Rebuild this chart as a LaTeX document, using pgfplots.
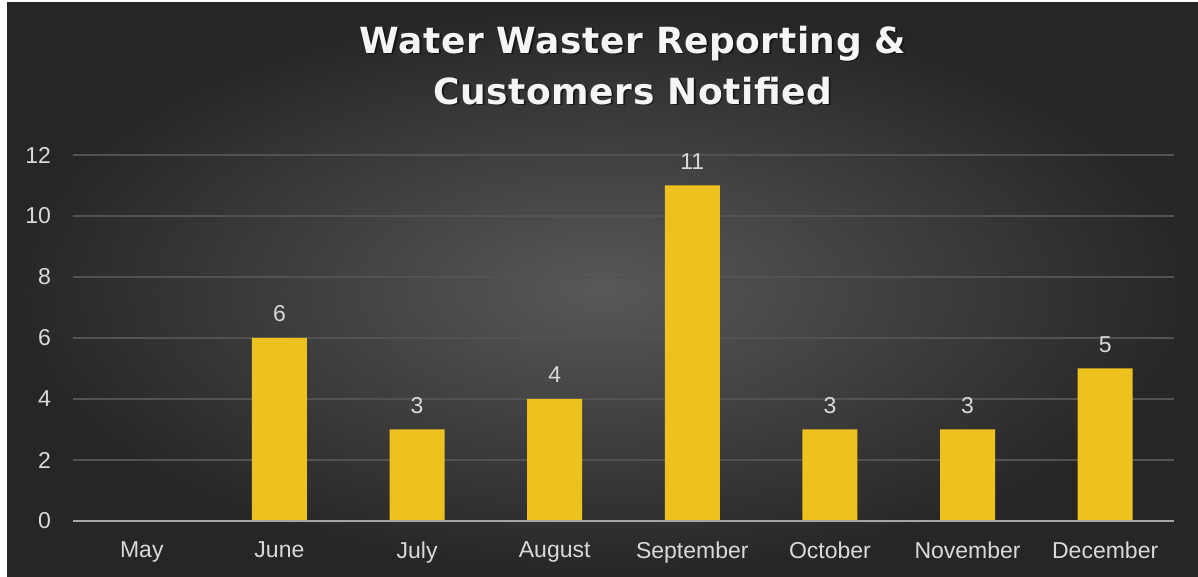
\documentclass[border=0pt]{standalone}
\usepackage{pgfplots}
\pgfplotsset{compat=1.18}
\usepackage{fontspec}
\setmainfont{Liberation Sans}
\newfontfamily\titlefont[LetterSpace=1.5]{DejaVu Sans Bold}
\definecolor{bgout}{RGB}{38,38,38}
\definecolor{bgin}{RGB}{88,88,88}
\definecolor{baryellow}{RGB}{237,194,30}
\definecolor{lbl}{RGB}{217,217,217}
\definecolor{gridc}{RGB}{82,82,82}
\definecolor{axisc}{RGB}{165,165,165}
\begin{document}
\begin{tikzpicture}[x=1pt,y=1pt]
\fill[white] (0,0) rectangle (599,288.5);
\shade[inner color=bgin, outer color=bgout] (3.5,0) rectangle (599,287);
\useasboundingbox (0,0) rectangle (599,288.5);
\node[font=\titlefont\fontsize{18}{25.5}\selectfont, text=black, opacity=0.5, align=center] at (317.3,255) {Water Waster Reporting \&\\Customers Notified};
\node[font=\titlefont\fontsize{18}{25.5}\selectfont, text=white!96!black, align=center] at (316.5,255.8) {Water Waster Reporting \&\\Customers Notified};
\begin{axis}[
  at={(36.5pt,28pt)}, anchor=south west,
  scale only axis, width=550.5pt, height=183pt,
  xmin=-0.5, xmax=7.5, ymin=0, ymax=12,
  ybar, bar width=27.5pt,
  xtick=data,
  xticklabels={May,June,July,August,September,October,November,December},
  ytick={0,2,4,6,8,10,12},
  ymajorgrids, grid style={gridc, line width=0.8pt},
  axis line style={draw=none},
  axis x line*=bottom, axis y line*=left,
  major tick length=0pt,
  tick label style={text=lbl, font=\fontsize{11.5}{13}\selectfont},
  /pgf/number format/assume math mode=true,
  xticklabel style={yshift=-7pt},
  yticklabel style={xshift=-7.5pt},
  nodes near coords,
  point meta=explicit symbolic,
  every node near coord/.append style={text=lbl, font=\fontsize{11.5}{13}\selectfont, yshift=4.5pt},
  clip=false,
]
\addplot[fill=baryellow, draw=none] coordinates {
  (0,0) []
  (1,6) [6]
  (2,3) [3]
  (3,4) [4]
  (4,11) [11]
  (5,3) [3]
  (6,3) [3]
  (7,5) [5]
};
\draw[axisc, line width=1.2pt] (axis cs:-0.5,0) -- (axis cs:7.5,0);
\end{axis}
\end{tikzpicture}
\end{document}
